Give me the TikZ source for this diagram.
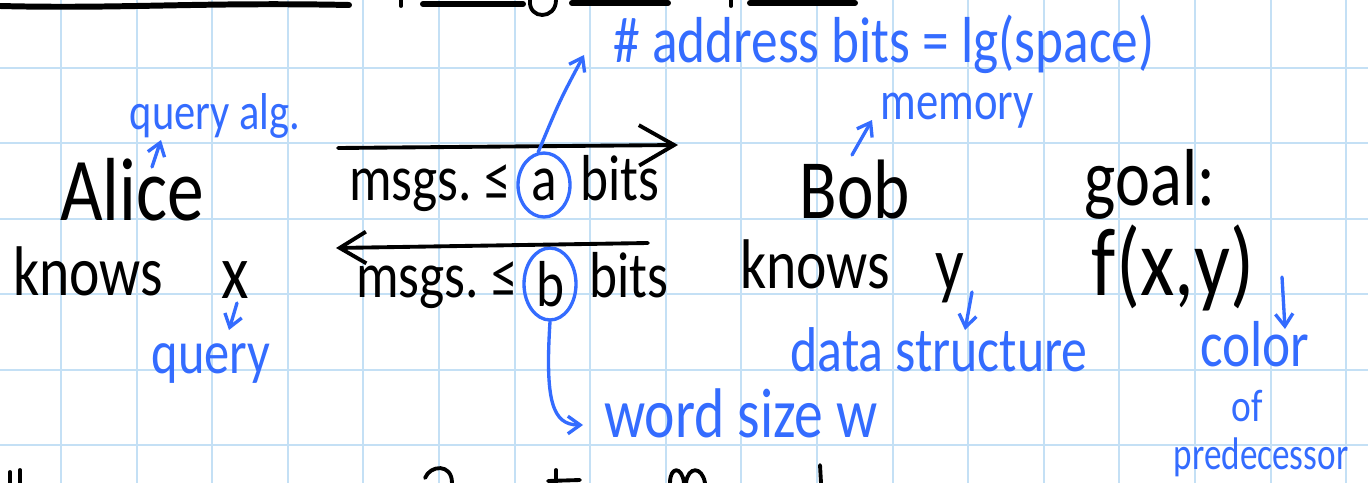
\documentclass[tikz,border=0pt]{standalone}
\usepackage{fontspec}
\setmainfont{Carlito}[FakeStretch=0.82]
\newfontfamily\narrowhand{Carlito}[FakeStretch=0.77]
\usetikzlibrary{arrows.meta,shapes.geometric}
\definecolor{penblue}{RGB}{52,108,255}
\definecolor{gridblue}{RGB}{196,224,245}
\newcommand{\hand}[1]{\fontsize{#1}{#1}\selectfont}

\begin{document}
\begin{tikzpicture}[x=0.02cm,y=-0.02cm,
    pen/.style={line width=2.2pt,line cap=round,line join=round},
    thickpen/.style={pen,line width=3.4pt},
    bluepen/.style={pen,draw=penblue,line width=1.9pt},
    word/.style={anchor=base,inner sep=0pt},
    note/.style={word,text=penblue},
    bigtip/.style={-{Straight Barb[length=20pt,width=23pt]}},
    backtip/.style={-{Straight Barb[length=15pt,width=18pt]}},
    hooktip/.style={-{Straight Barb[length=7pt,width=10pt]}},
    circled/.style={ellipse,draw=penblue,line width=1.9pt,inner sep=0pt,minimum width=1.04cm}]
  \fill[white] (0,0) rectangle (1368,483);
  \useasboundingbox (0,0) rectangle (1368,483);
  \foreach \i in {0,...,17}
    \draw[gridblue,line width=1.1pt] ({61+75.6*\i},0) -- ({61+75.6*\i},483);
  \foreach \j in {0,...,5}
    \draw[gridblue,line width=1.1pt] (0,{68+75.4*\j}) -- (1368,{68+75.4*\j});

  \draw[thickpen] (0,6) .. controls (120,9) and (200,2) .. (349,5);
  \draw[pen] (401,0) -- (401,6);
  \draw[thickpen] (423,4) -- (523,4);
  \draw[pen] (530,0) .. controls (528,20) and (556,20) .. (556,0);
  \draw[thickpen] (572,3) -- (668,3);
  \draw[pen] (731,0) -- (731,6);
  \draw[thickpen] (750,3) -- (855,3);
  \draw[pen] (10,472) -- (10,483);
  \draw[pen] (20,470) -- (20,483);
  \draw[pen] (425,478) .. controls (430,465) and (452,463) .. (452,483);
  \draw[pen] (556,470) -- (556,483);
  \draw[pen] (548,481) -- (580,480);
  \draw[pen] (670,483) .. controls (670,466) and (682,466) .. (684,483);
  \draw[pen] (686,483) .. controls (688,466) and (702,466) .. (705,483);
  \draw[pen] (820,465) -- (821,483);

  \node[word,font=\hand{51}] (alice) at (132,220) {Alice};
  \node[word,font=\hand{40}] (knowsx) at (88,295) {knows};
  \node[word,font=\hand{44}] (x) at (235,298) {x};
  \node[word,font=\hand{48}] (bob) at (855,218) {Bob};
  \node[word,font=\hand{40}] (knowsy) at (815,288) {knows};
  \node[word,font=\hand{44}] (y) at (950,290) {y};
  \node[word,font=\hand{46}] (goal) at (1150,205) {goal:};
  \node[word,font=\hand{55}] (f) at (1173,295) {f(x,y)};

  \node[word,font=\hand{37}] (sendmsg) at (430,200) {msgs.\ ≤};
  \node[circled,minimum height=1.28cm,font=\hand{37}] (a) at (544,185) {a};
  \node[word,font=\hand{37}] (sendbits) at (620,200) {bits};
  \node[word,font=\hand{37}] (backmsg) at (437,297) {msgs.\ ≤};
  \node[circled,minimum height=1.44cm,font=\hand{37}] (b) at (550,284) {b};
  \node[word,font=\hand{37}] (backbits) at (629,297) {bits};

  \coordinate (sendL) at (338,148);
  \coordinate (sendR) at (678,145);
  \coordinate (backR) at (648,243);
  \coordinate (backL) at (336,248);
  \draw[pen,bigtip] (sendL) -- (sendR);
  \draw[pen,backtip] (backR) -- (backL);

  \node[note,font=\hand{29.5}] (qalg) at (215,130) {query alg.};
  \node[note,font=\hand{37}] (addr) at (884,63) {\# address bits = lg(space)};
  \node[note,font=\hand{31}] (mem) at (957,119) {memory};
  \node[note,font=\hand{35}] (query) at (211,373) {query};
  \node[note,font=\hand{40}] (wsize) at (741,437) {word size w};
  \node[note,font=\hand{36}] (ds) at (939,371) {data structure};
  \node[note,font=\hand{37}] (color) at (1255,366) {color};
  \node[note,font=\hand{26}] (of) at (1247,421) {of};
  \node[note,font=\narrowhand\hand{26}] (pred) at (1261,469) {predecessor};

  \draw[bluepen,hooktip] ([shift={(20,-53)}]alice.base) -- ([shift={(-54,10)}]qalg.base);
  \draw[bluepen,hooktip] (a.100) .. controls (560,100) .. ([shift={(-300,-8)}]addr.base);
  \draw[bluepen,hooktip] (b.south) .. controls (545,400) and (552,425) .. ([shift={(-158,-12)}]wsize.base);
  \draw[bluepen,hooktip] ([shift={(-3,-63)}]bob.base) -- ([shift={(-85,1)}]mem.base);
  \draw[bluepen,hooktip] ([shift={(2,5)}]x.base) -- ([shift={(18,-43)}]query.base);
  \draw[bluepen,hooktip] ([shift={(22,2)}]y.base) -- ([shift={(26,-41)}]ds.base);
  \draw[bluepen,hooktip] ([shift={(109,-18)}]f.base) -- ([shift={(30,-37)}]color.base);
\end{tikzpicture}
\end{document}
